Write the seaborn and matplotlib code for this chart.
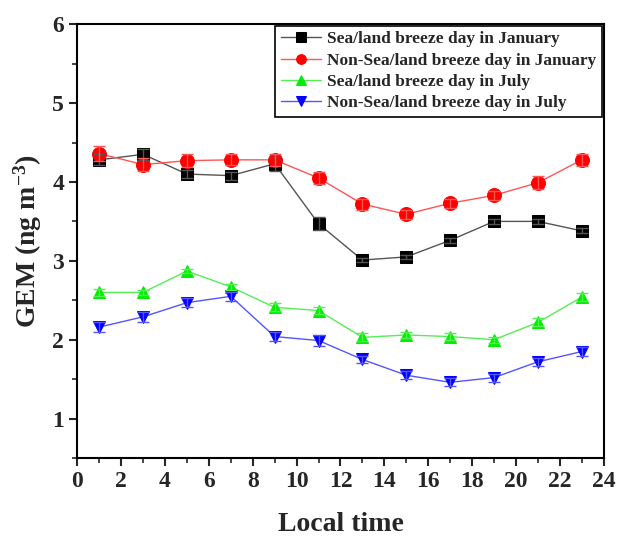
import numpy as np
import pandas as pd
import matplotlib
matplotlib.use('Agg')
import matplotlib.pyplot as plt
import seaborn as sns

sns.set_style('ticks')
plt.rcParams['font.family'] = ['Liberation Serif', 'DejaVu Serif']
plt.rcParams['font.weight'] = 'bold'
plt.rcParams['mathtext.fontset'] = 'custom'
plt.rcParams['mathtext.rm'] = 'Liberation Serif:bold'
plt.rcParams['mathtext.bf'] = 'Liberation Serif:bold'
plt.rcParams['mathtext.default'] = 'bf'

# ── Data ─────────────────────────────────────────────────────────────────
hours = [1, 3, 5, 7, 9, 11, 13, 15, 17, 19, 21, 23]

sea_jan     = [4.28, 4.35, 4.10, 4.08, 4.23, 3.47, 3.01, 3.05, 3.26, 3.50, 3.50, 3.38]
sea_jan_err = [0.07, 0.07, 0.05, 0.05, 0.09, 0.08, 0.03, 0.03, 0.03, 0.03, 0.03, 0.03]

non_jan     = [4.36, 4.22, 4.27, 4.28, 4.28, 4.05, 3.72, 3.59, 3.73, 3.83, 3.99, 4.28]
non_jan_err = [0.09, 0.08, 0.08, 0.07, 0.08, 0.08, 0.07, 0.06, 0.06, 0.06, 0.08, 0.08]

sea_jul     = [2.60, 2.60, 2.87, 2.67, 2.41, 2.37, 2.03, 2.06, 2.04, 2.00, 2.22, 2.54]
sea_jul_err = [0.04, 0.03, 0.03, 0.04, 0.05, 0.05, 0.05, 0.04, 0.04, 0.04, 0.05, 0.05]

non_jul     = [2.16, 2.29, 2.47, 2.55, 2.04, 1.99, 1.75, 1.55, 1.46, 1.52, 1.72, 1.85]
non_jul_err = [0.06, 0.06, 0.06, 0.06, 0.06, 0.07, 0.05, 0.05, 0.05, 0.05, 0.05, 0.06]

labels = ['Sea/land breeze day in January',
          'Non-Sea/land breeze day in January',
          'Sea/land breeze day in July',
          'Non-Sea/land breeze day in July']
series = [sea_jan, non_jan, sea_jul, non_jul]
errors = [sea_jan_err, non_jan_err, sea_jul_err, non_jul_err]

colors   = ['black', 'red', '#00ee00', 'blue']
lcolors  = ['#555555', '#ff5555', '#55ee55', '#5555ff']
markers  = ['s', 'o', '^', 'v']
msizes   = [8, 10, 9, 9]

df = pd.DataFrame({
    'hour': hours * 4,
    'gem': sum(series, []),
    'err': sum(errors, []),
    'group': np.repeat(labels, len(hours)),
})

# ── Figure ───────────────────────────────────────────────────────────────
fig = plt.figure(figsize=(6.23, 5.37), dpi=100)
ax = fig.add_axes([0.124, 0.147, 0.845, 0.808])

for lab, col, lcol, mk, ms in zip(labels, colors, lcolors, markers, msizes):
    sub = df[df['group'] == lab]
    sns.lineplot(data=sub, x='hour', y='gem', ax=ax, color=lcol, lw=1,
                 marker=mk, markersize=ms, markerfacecolor=col,
                 markeredgecolor=col, label=lab, zorder=3)
    ax.errorbar(sub['hour'], sub['gem'], yerr=sub['err'], fmt='none',
                ecolor=lcol, elinewidth=1, capsize=4.5, capthick=1, zorder=4)

ax.set_xlim(0, 24)
ax.set_ylim(0.5, 6)
ax.set_xticks(np.arange(0, 25, 2))
ax.set_xticks(np.arange(0, 25, 1), minor=True)
ax.set_yticks(np.arange(1, 7, 1))
ax.set_yticks(np.arange(0.5, 6.01, 0.5), minor=True)
ax.tick_params(axis='both', which='major', direction='out', length=6, width=1.5,
               labelsize=17, top=False, right=False)
ax.tick_params(axis='both', which='minor', direction='out', length=3.5, width=1.2,
               top=False, right=False)
for lbl in ax.get_xticklabels() + ax.get_yticklabels():
    lbl.set_fontweight('bold')
for sp in ax.spines.values():
    sp.set_visible(True)
    sp.set_linewidth(1.5)
    sp.set_color('black')

ax.set_xlabel('Local time', fontsize=20, fontweight='bold', labelpad=14)
ax.set_ylabel(r'GEM (ng m$^{\mathbf{-3}}$)', fontsize=20, fontweight='bold', labelpad=6)

leg = ax.legend(loc='upper right', frameon=True, fancybox=False,
                handlelength=2.3, handletextpad=0.4, borderpad=0.3,
                labelspacing=0.3, borderaxespad=0.1,
                prop={'weight': 'bold', 'size': 12.5})
leg.get_frame().set_edgecolor('black')
leg.get_frame().set_linewidth(1.2)
leg.get_frame().set_alpha(1)
for h in leg.legend_handles:
    h.set_markersize(7)

fig.savefig('out.png', dpi=100)
